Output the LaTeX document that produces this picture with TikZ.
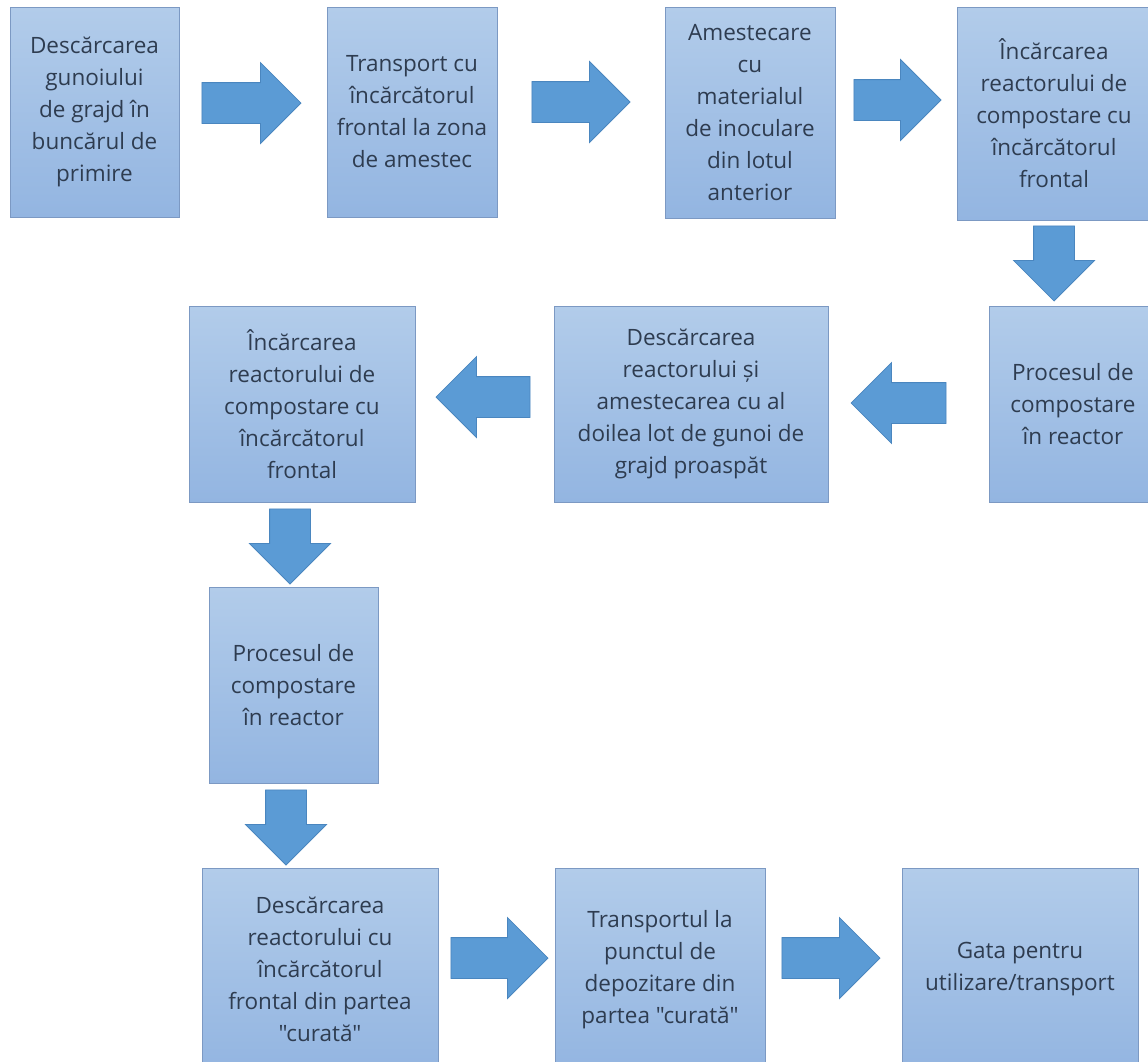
\documentclass[tikz,border=0pt]{standalone}
\usepackage{fontspec}
\setmainfont{Open Sans}[Ligatures=TeXOff]
\usepackage{xcolor}
\usetikzlibrary{calc,shapes.arrows}
\definecolor{boxtop}{HTML}{B2CCEA}
\definecolor{boxbot}{HTML}{93B5E1}
\definecolor{boxedge}{HTML}{7C99C3}
\definecolor{arrowfill}{HTML}{5B9BD5}
\definecolor{arrowedge}{HTML}{4A86BF}
\definecolor{textcol}{HTML}{2E3C50}
\tikzset{
    stepbox/.style={rectangle, draw=boxedge, line width=1pt, top color=boxtop, bottom color=boxbot,
        text=textcol, align=center, inner sep=0pt, font=\fontsize{22.5}{32}\selectfont},
    flowarrow/.style={single arrow, draw=arrowedge, line width=0.8pt, fill=arrowfill,
        minimum width=80pt, single arrow head extend=20pt, inner xsep=0pt, inner ysep=20pt,
        text height=0pt, text depth=0pt, anchor=tip, minimum height=#1},
    flowarrow/.default=97pt
}

\begin{document}
\begin{tikzpicture}[x=1pt,y=1pt]
        \useasboundingbox (0,0) rectangle (1148,-1061);
        \fill[white] (0,0) rectangle (1148,-1061);
        \clip (0,0) rectangle (1148,-1061);
        \node[stepbox, minimum width=169pt, minimum height=210pt] (b1) at (94.5,-112) {Descărcarea\\gunoiului\\de grajd în\\buncărul de\\primire};
        \node[stepbox, minimum width=170pt, minimum height=210pt] (b2) at (412,-112) {Transport cu\\încărcătorul\\frontal la zona\\de amestec};
        \node[stepbox, minimum width=170pt, minimum height=211pt] (b3) at (750,-112.5) {Amestecare\\cu\\materialul\\de inoculare\\din lotul\\anterior};
        \node[stepbox, minimum width=194pt, minimum height=213pt] (b4) at (1054,-113.5) {Încărcarea\\reactorului de\\compostare cu\\încărcătorul\\frontal};
        \node[stepbox, minimum width=168pt, minimum height=196pt] (b5) at (1073,-404) {Procesul de\\compostare\\în reactor};
        \node[stepbox, minimum width=274pt, minimum height=196pt] (b6) at (691,-404) {Descărcarea\\reactorului și\\amestecarea cu al\\doilea lot de gunoi de\\grajd proaspăt};
        \node[stepbox, minimum width=226pt, minimum height=196pt] (b7) at (302,-404) {Încărcarea\\reactorului de\\compostare cu\\încărcătorul\\frontal};
        \node[stepbox, minimum width=169pt, minimum height=196pt] (b8) at (293.5,-685) {Procesul de\\compostare\\în reactor};
        \node[stepbox, minimum width=236pt, minimum height=203pt] (b9) at (320,-969.5) {Descărcarea\\reactorului cu\\încărcătorul\\frontal din partea\\"curată"};
        \node[stepbox, minimum width=210pt, minimum height=203pt] (b10) at (660,-969.5) {Transportul la\\punctul de\\depozitare din\\partea "curată"};
        \node[stepbox, minimum width=236pt, minimum height=203pt] (b11) at (1020,-969.5) {Gata pentru\\utilizare/transport};
        \node[flowarrow=99pt] (a1) at ($(b2.west)+(-25,9)$) {};
        \node[flowarrow=98pt] (a2) at ($(b3.west)+(-34,10.5)$) {};
        \node[flowarrow=87pt] (a3) at ($(b4.west)+(-15,13.5)$) {};
        \node[flowarrow=75pt, rotate=-90] (a4) at ($(b4.south |- b5.north)+(0,4)$) {};
        \node[flowarrow=95pt, rotate=180] (a5) at ($(b6.east)+(22,1)$) {};
        \node[flowarrow=94pt, rotate=180] (a6) at ($(b7.east)+(20,7)$) {};
        \node[flowarrow=75pt, rotate=-90] (a7) at ($(b8.north)+(-3.5,2)$) {};
        \node[flowarrow=75pt, rotate=-90] (a8) at ($(b8.south |- b9.north)+(-7.5,2)$) {};
        \node[flowarrow=97pt] (a9) at ($(b10.west)+(-6,11.5)$) {};
        \node[flowarrow=98pt] (a10) at ($(b11.west)+(-21,11.5)$) {};
    \end{tikzpicture}
\end{document}
